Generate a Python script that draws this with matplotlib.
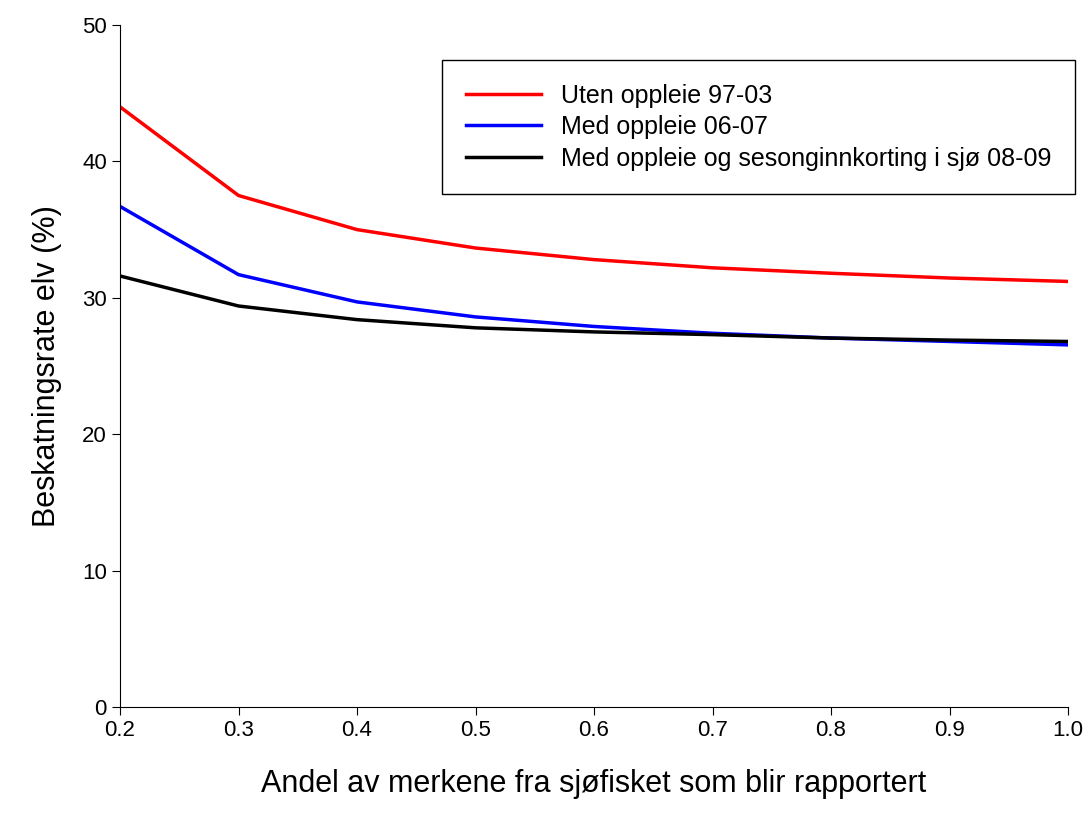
import matplotlib
matplotlib.use("Agg")
import matplotlib.pyplot as plt

plt.rcParams['font.family'] = ['Liberation Sans', 'DejaVu Sans']

andel = [0.2, 0.3, 0.4, 0.5, 0.6, 0.7, 0.8, 0.9, 1.0]
uten_97_03 = [44.0, 37.5, 35.0, 33.65, 32.8, 32.2, 31.8, 31.45, 31.2]
med_06_07 = [36.7, 31.7, 29.7, 28.6, 27.9, 27.4, 27.05, 26.8, 26.55]
med_sjo_08_09 = [31.6, 29.4, 28.4, 27.8, 27.5, 27.3, 27.05, 26.9, 26.8]

fig = plt.figure(figsize=(10.86, 8.17), dpi=100)
ax = fig.add_axes([0.1105, 0.1346, 0.873, 0.8348])
ax.plot(andel, uten_97_03, color='#ff0000', lw=2.5, label='Uten oppleie 97-03')
ax.plot(andel, med_06_07, color='#0000ff', lw=2.5, label='Med oppleie 06-07')
ax.plot(andel, med_sjo_08_09, color='black', lw=2.5, label='Med oppleie og sesonginnkorting i sjø 08-09')

ax.set_xlim(0.2, 1.0)
ax.set_ylim(0, 50)
ax.set_xticks(andel)
ax.set_xticklabels([f"{v:.1f}" for v in andel])
ax.set_yticks(range(0, 51, 10))
ax.tick_params(direction='out', labelsize=16, length=6)
ax.spines['top'].set_visible(False)
ax.spines['right'].set_visible(False)
ax.set_xlabel('Andel av merkene fra sjøfisket som blir rapportert', fontsize=22, labelpad=20)
ax.set_ylabel('Beskatningsrate elv (%)', fontsize=22, labelpad=14)

leg = ax.legend(loc='upper right', bbox_to_anchor=(1.0074, 0.9487), borderaxespad=0,
                fontsize=18, fancybox=False, edgecolor='black', framealpha=1,
                handlelength=3.0, borderpad=0.95, labelspacing=0.3)
leg.get_frame().set_linewidth(1.0)

fig.savefig('out.png', dpi=100)
